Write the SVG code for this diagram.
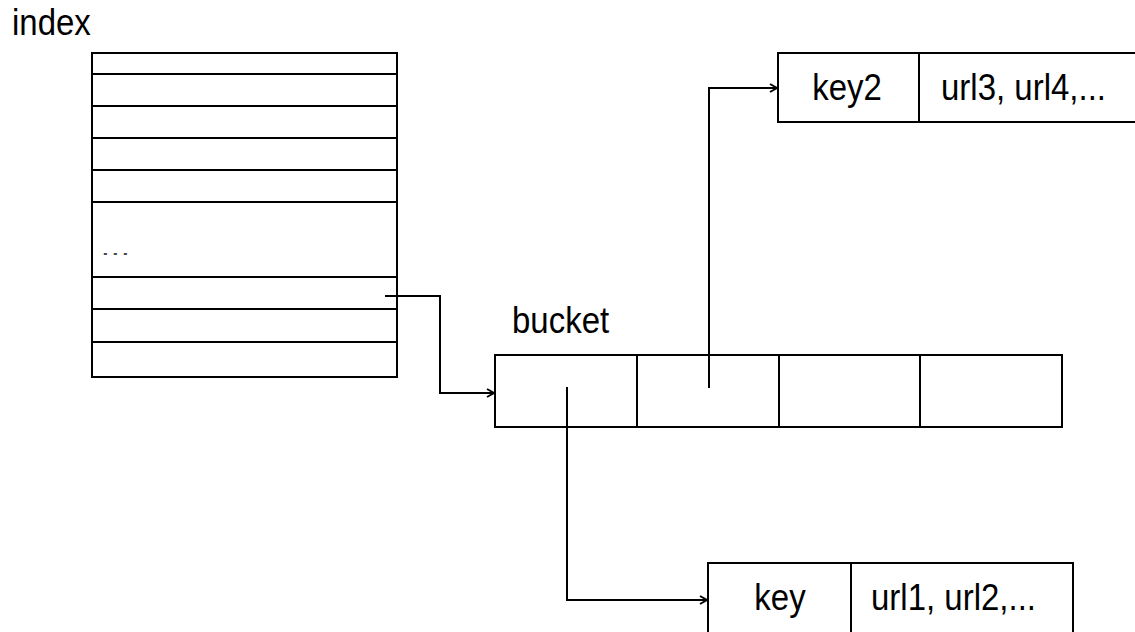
<svg xmlns="http://www.w3.org/2000/svg" width="1135" height="632" viewBox="0 0 1135 632">
<style>
.b{fill:#fff;stroke:#000;stroke-width:2}
.l{fill:none;stroke:#000;stroke-width:2}
.c{fill:none;stroke:#000;stroke-width:2}
.t{font-family:"Liberation Sans",Arial,sans-serif;font-size:33px;fill:#000}
.d{font-family:"Liberation Sans",Arial,sans-serif;font-size:24px;letter-spacing:1px;fill:#444}
</style>
<defs>
<marker id="ah" markerWidth="12" markerHeight="12" refX="10" refY="6" orient="auto" markerUnits="userSpaceOnUse">
<path d="M3,2 L10,6 L3,10" fill="none" stroke="#000" stroke-width="2"/>
</marker>
</defs>
<rect width="1135" height="632" fill="#fff"/>
<g id="index">
<text class="t" transform="translate(12,35) scale(1,1.12)">index</text>
<rect class="b" x="92" y="53" width="305" height="324"/>
<path class="l" d="M92,74H397M92,106H397M92,138H397M92,170H397M92,202H397M92,277H397M92,309H397M92,342H397"/>
<text class="d" transform="translate(101,255) scale(1.3,0.8)">...</text>
</g>
<g id="bucket">
<text class="t" transform="translate(512,333) scale(1,1.12)">bucket</text>
<rect class="b" x="495" y="355" width="567" height="72"/>
<path class="l" d="M637,355V427M779,355V427M920,355V427"/>
</g>
<g id="key2">
<rect class="b" x="778" y="53" width="370" height="69"/>
<path class="l" d="M919,53V122"/>
<text class="t" text-anchor="middle" transform="translate(847,100) scale(1,1.12)">key2</text>
<text class="t" transform="translate(941,100) scale(1,1.12)">url3, url4,...</text>
</g>
<g id="key">
<rect class="b" x="708" y="563" width="365" height="80"/>
<path class="l" d="M851,563V643"/>
<text class="t" text-anchor="middle" transform="translate(780,610) scale(1,1.12)">key</text>
<text class="t" transform="translate(871,610) scale(1,1.12)">url1, url2,...</text>
</g>
<g id="connectors">
<path class="c" d="M385,296H440V393H494" marker-end="url(#ah)"/>
<path class="c" d="M709,388V88H777" marker-end="url(#ah)"/>
<path class="c" d="M567,387V600H707" marker-end="url(#ah)"/>
</g>
</svg>
